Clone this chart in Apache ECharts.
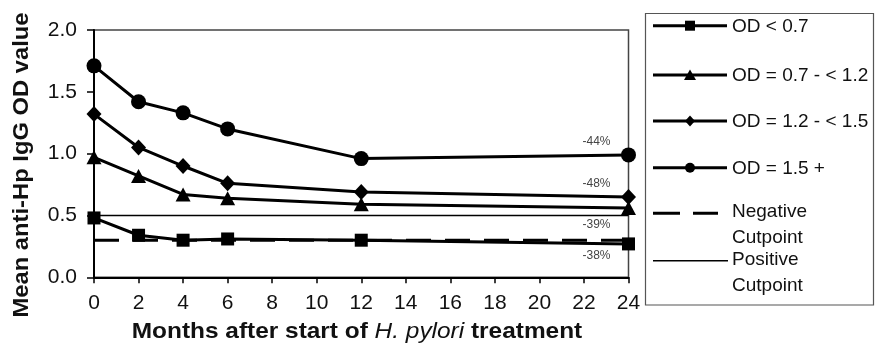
<!DOCTYPE html>
<html>
<head>
<meta charset="utf-8">
<script src="https://cdn.jsdelivr.net/npm/echarts@6/dist/echarts.min.js"></script>
<style>html,body{margin:0;padding:0;background:#fff;}#c{width:875px;height:345px;}</style>
</head>
<body>
<div id="c"></div>
<script>
// ---- data ----
var months = [0, 2, 4, 6, 12, 24];
var odBelow07 = [0.48, 0.34, 0.30, 0.31, 0.30, 0.27];
var od07to12 = [0.97, 0.82, 0.67, 0.64, 0.59, 0.56];
var od12to15 = [1.32, 1.05, 0.90, 0.76, 0.69, 0.65];
var od15plus = [1.71, 1.42, 1.33, 1.20, 0.96, 0.99];
var cutMonths = [0, 24];
var negativeCutpoint = 0.3;
var positiveCutpoint = 0.5;
var xTicks = [0, 2, 4, 6, 8, 10, 12, 14, 16, 18, 20, 22, 24];
var yTicks = [0.0, 0.5, 1.0, 1.5, 2.0];
var seriesNames = ['OD < 0.7', 'OD = 0.7 - < 1.2', 'OD = 1.2 - < 1.5', 'OD = 1.5 +'];
var pctLabels = ['-38%', '-39%', '-48%', '-44%'];

var FONT = '"Liberation Sans", Arial, Helvetica, sans-serif';

function pts(vals, label, offset) {
  return months.map(function (m, i) {
    var item = { value: [m, vals[i]] };
    if (i === months.length - 1) {
      item.label = {
        show: true, formatter: label, position: 'inside', offset: offset,
        color: '#444', fontSize: 12, fontFamily: FONT
      };
    }
    return item;
  });
}
function cut(v) { return cutMonths.map(function (m) { return [m, v]; }); }

var lineBase = { type: 'line', lineStyle: { color: '#000', width: 3 }, itemStyle: { color: '#000' }, z: 5, label: { show: false } };
function mk(name, data, symbol, size) {
  return Object.assign({}, lineBase, { name: name, data: data, symbol: symbol, symbolSize: size });
}

// legend drawn with graphic
var LX0 = 653, LX1 = 727, LMX = 690, TX = 732;
var legendRows = [25.7, 75, 121, 167.7];
var g = [];
g.push({ type: 'rect', shape: { x: 645.5, y: 13.5, width: 228, height: 291.5 }, style: { fill: '#fff', stroke: '#555', lineWidth: 1.2 }, z: 10 });
function legLine(y, x1, dash, w) {
  g.push({ type: 'line', shape: { x1: LX0, y1: y, x2: x1, y2: y }, style: { stroke: '#000', lineWidth: w, lineDash: dash || null }, z: 11 });
}
function legText(x, y, t) {
  g.push({ type: 'text', x: x, y: y, style: { text: t, fontFamily: FONT, fontSize: 19, fill: '#111', verticalAlign: 'middle', align: 'left' }, z: 12 });
}
legendRows.forEach(function (y, i) {
  legLine(y, LX1, null, 3);
  var s = 5;
  if (i === 0) g.push({ type: 'rect', shape: { x: LMX - s, y: y - s, width: 2 * s, height: 2 * s }, style: { fill: '#000' }, z: 12 });
  if (i === 1) g.push({ type: 'polygon', shape: { points: [[LMX, y - 5.5], [LMX + 6, y + 5], [LMX - 6, y + 5]] }, style: { fill: '#000' }, z: 12 });
  if (i === 2) g.push({ type: 'polygon', shape: { points: [[LMX, y - 5.5], [LMX + 5, y], [LMX, y + 5.5], [LMX - 5, y]] }, style: { fill: '#000' }, z: 12 });
  if (i === 3) g.push({ type: 'circle', shape: { cx: LMX, cy: y, r: 5 }, style: { fill: '#000' }, z: 12 });
  legText(TX, y + 1, seriesNames[i]);
});
legLine(213.3, 718, [27, 13], 3);
legText(TX, 212, 'Negative');
legText(TX, 238, 'Cutpoint');
legLine(260.7, 728, null, 1.5);
legText(TX, 260, 'Positive');
legText(TX, 286, 'Cutpoint');

// axis titles
g.push({
  type: 'text', x: 21.5, y: 165, rotation: Math.PI / 2, scaleX: 1.08,
  style: { text: 'Mean anti-Hp IgG OD value', fontFamily: FONT, fontWeight: 'bold', fontSize: 22, fill: '#111', align: 'center', verticalAlign: 'middle' }, z: 12
});
g.push({
  type: 'text', x: 357, y: 332, scaleX: 1.11,
  style: {
    text: '{b|Months after start of }{i|H. pylori}{b| treatment}',
    align: 'center', verticalAlign: 'middle',
    rich: {
      b: { fontFamily: FONT, fontWeight: 'bold', fontSize: 22, fill: '#111' },
      i: { fontFamily: FONT, fontStyle: 'italic', fontSize: 22, fill: '#111' }
    }
  }, z: 12
});

var chart = echarts.init(document.getElementById('c'), null, { renderer: 'canvas' });
chart.setOption({
  animation: false,
  backgroundColor: '#fff',
  grid: { left: 94, right: 246.5, top: 30, bottom: 67.7, show: true, borderColor: '#444', borderWidth: 1.5, backgroundColor: 'transparent' },
  xAxis: {
    type: 'value', min: xTicks[0], max: xTicks[xTicks.length - 1], interval: 2,
    axisLine: { show: true, lineStyle: { color: '#000', width: 2 } },
    axisTick: { show: true, inside: false, length: 6, lineStyle: { color: '#000', width: 1.5 } },
    axisLabel: { margin: 15, fontFamily: FONT, fontSize: 21, color: '#111' },
    splitLine: { show: false }
  },
  yAxis: {
    type: 'value', min: yTicks[0], max: yTicks[yTicks.length - 1], interval: 0.5,
    axisLine: { show: true, lineStyle: { color: '#000', width: 2 } },
    axisTick: { show: true, inside: false, length: 7, lineStyle: { color: '#000', width: 1.5 } },
    axisLabel: { margin: 17, fontFamily: FONT, fontSize: 21, color: '#111', formatter: function (v) { return v.toFixed(1); } },
    splitLine: { show: false }
  },
  series: [
    { type: 'line', name: 'Positive Cutpoint', data: cut(positiveCutpoint), symbol: 'none', lineStyle: { color: '#000', width: 1.5 }, z: 2 },
    { type: 'line', name: 'Negative Cutpoint', data: cut(negativeCutpoint), symbol: 'none', lineStyle: { color: '#000', width: 3, type: [25, 14] }, z: 2 },
    mk(seriesNames[0], pts(odBelow07, pctLabels[0], [-32, 12]), 'rect', 13),
    mk(seriesNames[1], pts(od07to12, pctLabels[1], [-32, 17]), 'triangle', [15, 14]),
    mk(seriesNames[2], pts(od12to15, pctLabels[2], [-32, -13]), 'diamond', [15, 16]),
    mk(seriesNames[3], pts(od15plus, pctLabels[3], [-32, -13]), 'circle', 15)
  ],
  graphic: g
});
</script>
</body>
</html>
